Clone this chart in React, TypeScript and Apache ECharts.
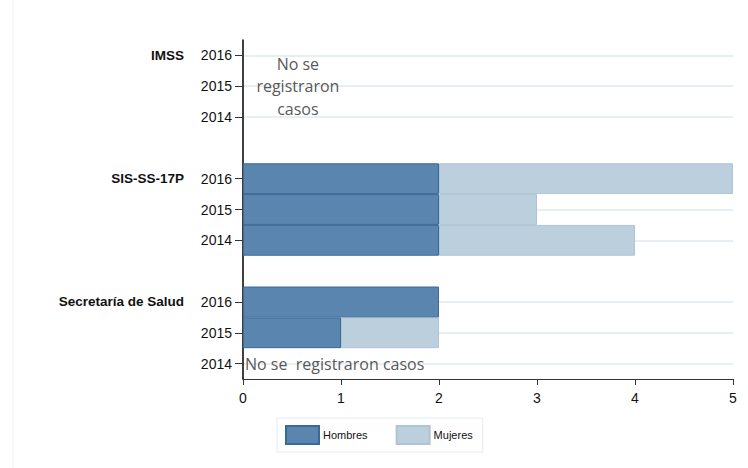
import React, { useEffect, useRef } from "react";
import * as echarts from "echarts";

// category keys: group|year ; gap rows are separators
const categories = [
  "IMSS|2016", "IMSS|2015", "IMSS|2014", "gap1",
  "SIS-SS-17P|2016", "SIS-SS-17P|2015", "SIS-SS-17P|2014", "gap2",
  "Secretaría de Salud|2016", "Secretaría de Salud|2015", "Secretaría de Salud|2014",
];
const hombres: (number | string)[] = ["-", "-", "-", "-", 2, 2, 2, "-", 2, 1, "-"];
const mujeres: (number | string)[] = ["-", "-", "-", "-", 3, 1, 2, "-", "-", 1, "-"];
const xTicks = [0, 1, 2, 3, 4, 5];
const noteIMSS = { x: 0.56, cat: "IMSS|2015", text: "No se\nregistraron\ncasos" };
const noteSS = { x: 0, cat: "Secretaría de Salud|2014", text: "No se  registraron casos" };

export default function App() {
  const ref = useRef<HTMLDivElement>(null);
  useEffect(() => {
    if (!ref.current) return;
    const chart = echarts.init(ref.current, undefined, { renderer: "svg" });
    const yearRows = categories.filter((c) => c.includes("|"));
    chart.setOption({
      animation: false,
      backgroundColor: "#ffffff",
      grid: { left: 243, right: 15, top: 40, bottom: 89, containLabel: false },
      xAxis: {
        type: "value",
        min: xTicks[0],
        max: xTicks[xTicks.length - 1],
        interval: 1,
        axisLine: { show: true, lineStyle: { color: "#333333", width: 1 } },
        axisTick: { show: true, length: 6, lineStyle: { color: "#333333" } },
        axisLabel: { color: "#111111", fontSize: 14, fontFamily: "Liberation Sans", margin: 12 },
        splitLine: { show: false },
      },
      yAxis: {
        type: "category",
        data: categories,
        inverse: true,
        axisLine: { show: true, lineStyle: { color: "#000000", width: 1.5 } },
        axisTick: {
          show: true,
          alignWithLabel: true,
          length: 8,
          interval: (i: number, v: string) => v.includes("|"),
          lineStyle: { color: "#333333" },
        },
        axisLabel: {
          interval: 0,
          margin: 11,
          fontFamily: "Liberation Sans",
          fontSize: 14,
          color: "#111111",
          formatter: (v: string) => {
            if (!v.includes("|")) return "";
            const [g, y] = v.split("|");
            return y === "2016" ? `{g|${g}}{y|${y}}` : `{y|${y}}`;
          },
          rich: {
            g: { fontWeight: "bold", fontSize: 13.5, fontFamily: "Liberation Sans", color: "#111111" },
            y: { width: 48, align: "right", fontSize: 14, fontFamily: "Liberation Sans", color: "#111111" },
          },
        },
        splitLine: { show: false },
      },
      legend: {
        left: 277,
        top: 418,
        orient: "horizontal",
        padding: [7, 10, 7, 8],
        itemGap: 28,
        itemWidth: 33,
        itemHeight: 18,
        icon: "rect",
        borderColor: "#e3ecef",
        borderWidth: 1,
        data: ["Hombres", "Mujeres"],
        textStyle: { fontSize: 11, fontFamily: "Liberation Sans", color: "#111111", padding: [0, 0, 0, -1] },
      },
      series: [
        {
          name: "grid",
          type: "scatter",
          data: [],
          z: 0,
          silent: true,
          markLine: {
            silent: true,
            z: 0,
            symbol: "none",
            label: { show: false },
            lineStyle: { color: "#e8eff2", width: 2, type: "solid" },
            data: yearRows.map((c) => ({ yAxis: c })),
          },
        },
        {
          name: "Hombres",
          type: "bar",
          stack: "total",
          data: hombres,
          barCategoryGap: 0,
          z: 3,
          itemStyle: { color: "#5a85ae", borderColor: "#3a6897", borderWidth: 1 },
        },
        {
          name: "Mujeres",
          type: "bar",
          stack: "total",
          data: mujeres,
          barCategoryGap: 0,
          z: 2,
          itemStyle: { color: "#bccfdd", borderColor: "#aec4d4", borderWidth: 1 },
        },
        {
          name: "notes",
          type: "scatter",
          symbolSize: 0,
          z: 5,
          silent: true,
          data: [
            {
              value: [noteIMSS.x, noteIMSS.cat],
              label: {
                show: true,
                position: "inside",
                formatter: noteIMSS.text,
                align: "center",
                verticalAlign: "middle",
                lineHeight: 22.5,
              },
            },
            {
              value: [noteSS.x, noteSS.cat],
              label: {
                show: true,
                position: "right",
                distance: 2,
                formatter: noteSS.text,
                align: "left",
                verticalAlign: "middle",
              },
            },
          ],
          label: { fontFamily: "Open Sans", fontSize: 16, color: "#2a2a2a" },
        },
      ],
      graphic: [
        {
          type: "line",
          shape: { x1: 13, y1: 0, x2: 13, y2: 468 },
          style: { stroke: "#eef2f4", lineWidth: 1 },
          silent: true,
        },
      ],
    });
    return () => chart.dispose();
  }, []);
  return <div ref={ref} style={{ width: 748, height: 468, position: "absolute", left: 0, top: 0 }} />;
}
